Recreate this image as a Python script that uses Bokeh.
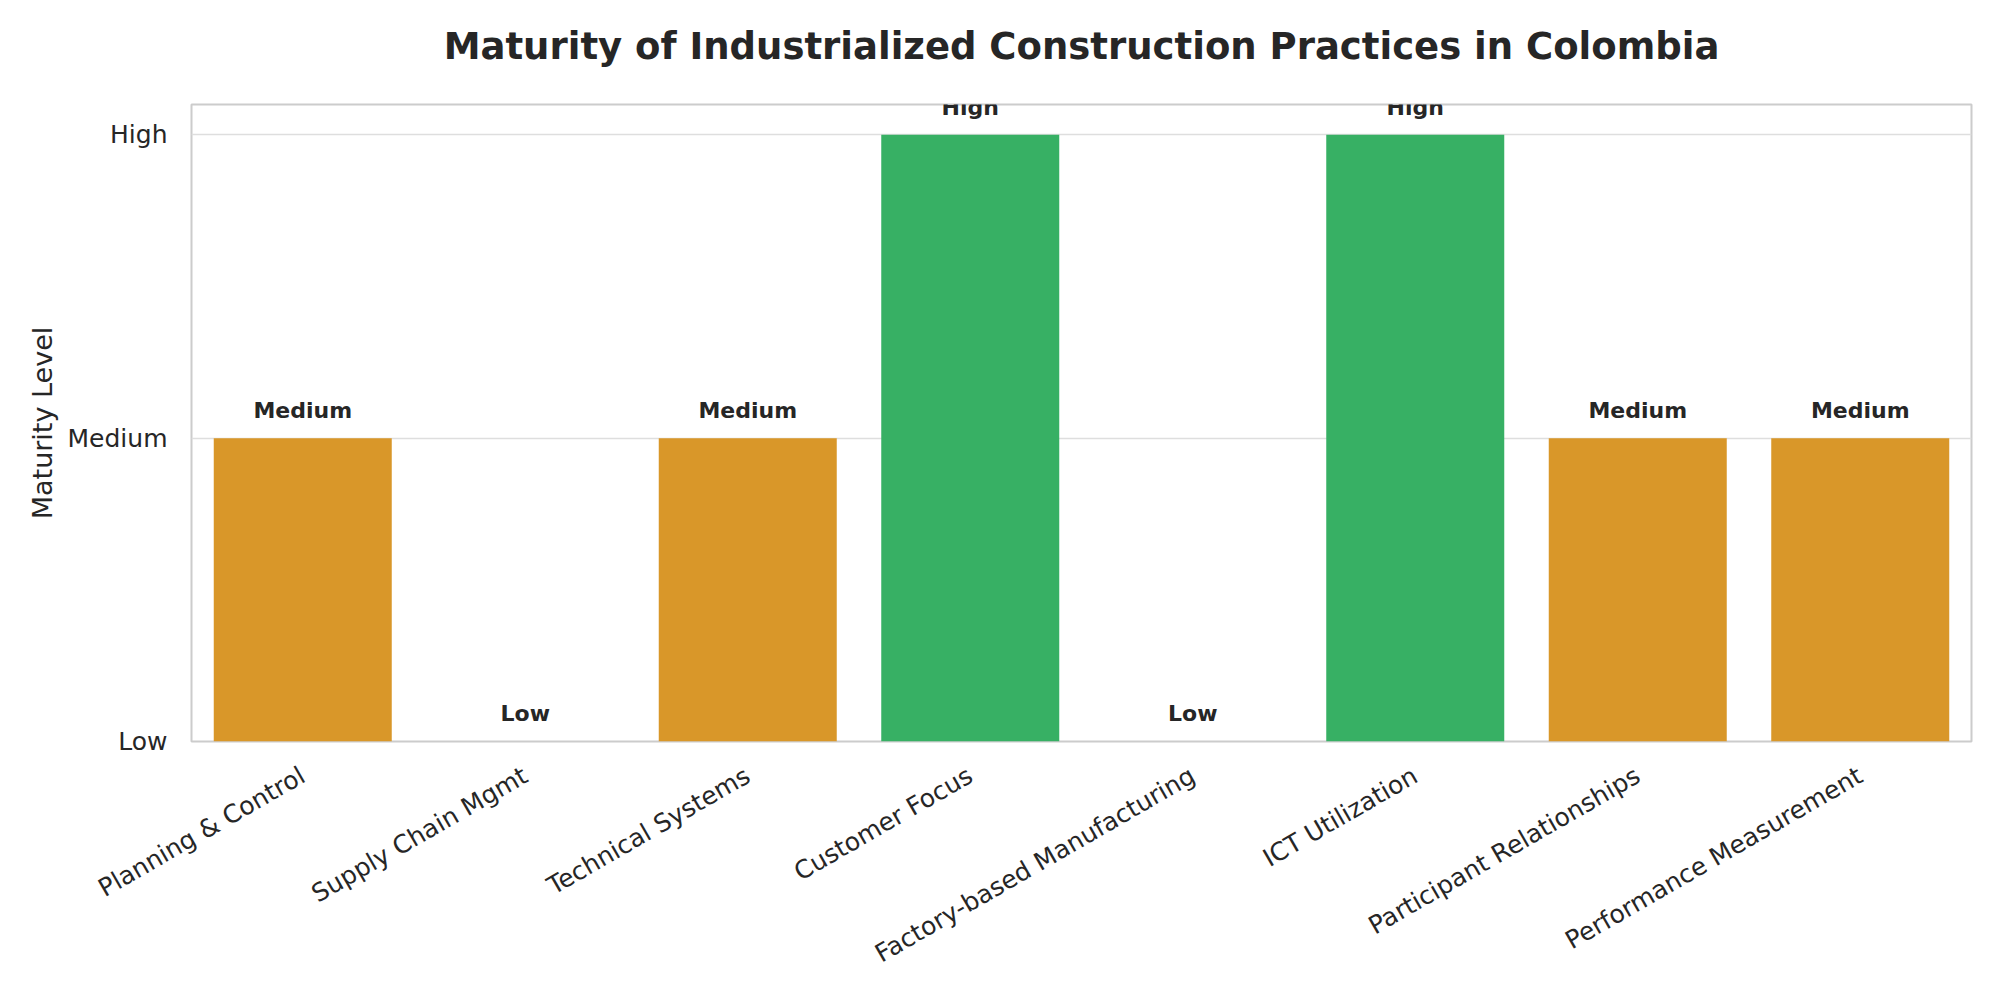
import math
from bokeh.plotting import figure
from bokeh.models import FactorRange, Range1d, ColumnDataSource, FixedTicker
from bokeh.core.properties import value
from bokeh.embed import file_html
from bokeh.resources import INLINE

# ---- data ----
categories = [
    "Planning & Control",
    "Supply Chain Mgmt",
    "Technical Systems",
    "Customer Focus",
    "Factory-based Manufacturing",
    "ICT Utilization",
    "Participant Relationships",
    "Performance Measurement",
]
levels = ["Medium", "Low", "Medium", "High", "Low", "High", "Medium", "Medium"]
level_names = ["Low", "Medium", "High"]
level_scores = [0, 1, 2]
title_text = "Maturity of Industrialized Construction Practices in Colombia"
y_label = "Maturity Level"

# ---- styling ----
score_of = dict(zip(level_names, level_scores))
palette = {"Low": "#D9534F", "Medium": "#D99729", "High": "#37B064"}
scores = [score_of[l] for l in levels]
colors = [palette[l] for l in levels]
label_y = [s + 0.05 for s in scores]

FONT = "DejaVu Sans"
TXT = "#262626"

src = ColumnDataSource(dict(cat=categories, score=scores, color=colors,
                            label=levels, label_y=label_y))

p = figure(
    x_range=FactorRange(factors=categories, range_padding=0),
    y_range=Range1d(0, 2.1),
    width=1980, height=990,
    output_backend="svg", toolbar_location=None,
    min_border_left=191, min_border_right=9,
    min_border_top=104, min_border_bottom=249,
)

p.vbar(x="cat", top="score", width=0.8, color="color", line_color=None, source=src)
p.text(x="cat", y="label_y", text="label", source=src,
       text_align="center", text_baseline="bottom",
       text_font=value(FONT), text_font_style="bold",
       text_font_size="22px", text_color=TXT)

# title (an empty second line lifts it further above the frame)
p.title.text = title_text + "\n"
p.title.align = "center"
p.title.text_font = FONT
p.title.text_font_size = "37px"
p.title.text_font_style = "bold"
p.title.text_color = TXT
p.title.text_line_height = 0.85
p.title.standoff = 0

# frame / grid
p.outline_line_color = "#cccccc"
p.outline_line_width = 2
p.background_fill_color = "white"
p.border_fill_color = "white"
p.xgrid.grid_line_color = None
p.ygrid.grid_line_color = "#dedede"
p.ygrid.grid_line_width = 1.6
p.ygrid.ticker = FixedTicker(ticks=level_scores)

# axes
for ax in (p.xaxis, p.yaxis):
    ax.axis_line_color = None
    ax.major_tick_line_color = None
    ax.minor_tick_line_color = None
    ax.major_label_text_font = FONT
    ax.major_label_text_font_size = "25px"
    ax.major_label_text_color = TXT

p.yaxis.ticker = FixedTicker(ticks=level_scores)
p.yaxis.major_label_overrides = {s: n for s, n in zip(level_scores, level_names)}
p.yaxis.major_label_standoff = 18
p.yaxis.axis_label = y_label
p.yaxis.axis_label_text_font = FONT
p.yaxis.axis_label_text_font_size = "27px"
p.yaxis.axis_label_text_font_style = "normal"
p.yaxis.axis_label_text_color = TXT
p.yaxis.axis_label_standoff = 7

p.xaxis.major_label_orientation = math.pi / 6
p.xaxis.major_label_standoff = 26

open("out.html", "w").write(file_html(p, INLINE))
